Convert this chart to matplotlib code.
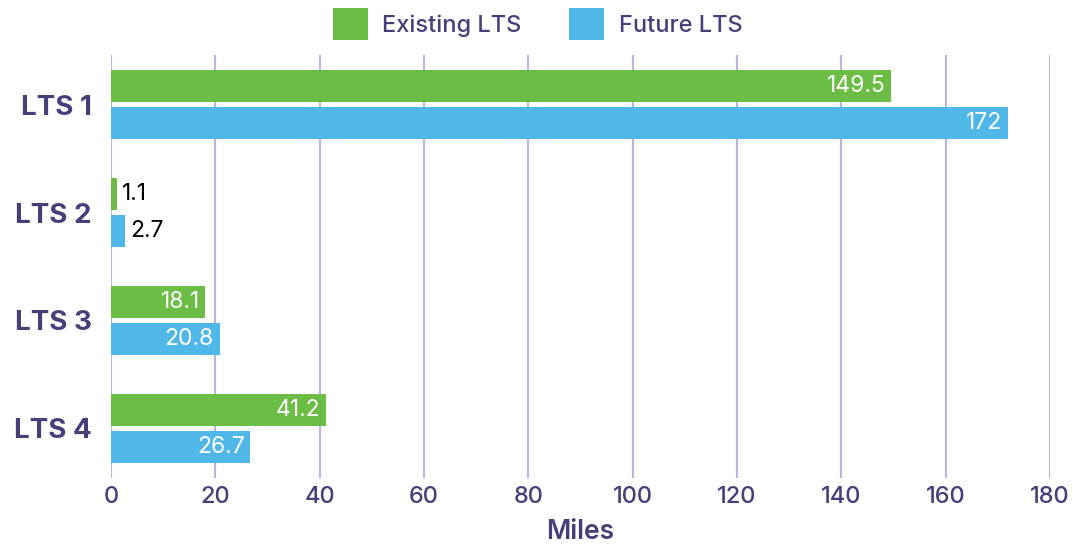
import matplotlib.pyplot as plt
import numpy as np

categories = ["LTS 1", "LTS 2", "LTS 3", "LTS 4"]
existing = [149.5, 1.1, 18.1, 41.2]
future = [172, 2.7, 20.8, 26.7]
series_names = ["Existing LTS", "Future LTS"]

GREEN = "#6cbd45"
BLUE = "#4fb8e8"
TEXT = "#453f7a"
GRID = "#b9b5dc"

plt.rcParams["font.family"] = ["Inter", "DejaVu Sans"]

fig = plt.figure(figsize=(10.75, 5.46), dpi=100)
ax = fig.add_axes([0.1033, 0.1245, 0.8734, 0.7748])

y = np.arange(len(categories))
h = 0.295
off = 0.17
b1 = ax.barh(y - off, existing, height=h, color=GREEN, label=series_names[0], zorder=3)
b2 = ax.barh(y + off, future, height=h, color=BLUE, label=series_names[1], zorder=3)

for bars, vals in [(b1, existing), (b2, future)]:
    for bar, v in zip(bars, vals):
        yc = bar.get_y() + bar.get_height() / 2
        if v < 10:
            ax.annotate(f"{v:g}", (v, yc), xytext=(4, 0), textcoords="offset points",
                        ha="left", va="center", fontsize=16.5, color="black", zorder=4)
        else:
            ax.annotate(f"{v:g}", (v, yc), xytext=(-4, 0), textcoords="offset points",
                        ha="right", va="center", fontsize=16.5, color="white", zorder=4)

ax.set_xlim(0, 180)
ax.set_ylim(3.46, -0.46)
ax.set_xticks(np.arange(0, 181, 20))
ax.set_yticks(y)
ax.set_yticklabels(categories, fontsize=20, fontweight="bold", color=TEXT)
ax.tick_params(axis="x", labelsize=17, labelcolor=TEXT, length=0, pad=6)
ax.tick_params(axis="y", length=0, pad=14)
for t in ax.get_xticklabels():
    t.set_fontweight("medium")
ax.grid(axis="x", color=GRID, linewidth=1.5, zorder=0)
ax.set_axisbelow(True)
for s in ax.spines.values():
    s.set_visible(False)
ax.set_xlabel("Miles", fontsize=19, fontweight="semibold", color=TEXT, labelpad=8)

leg = fig.legend(loc="upper center", bbox_to_anchor=(0.5, 1.025), ncol=2, frameon=False,
                 fontsize=17, labelcolor=TEXT, handlelength=1.5, handleheight=1.75,
                 handletextpad=0.6, columnspacing=2.0)
for t in leg.get_texts():
    t.set_fontweight("medium")

fig.savefig("out.png", dpi=100)
